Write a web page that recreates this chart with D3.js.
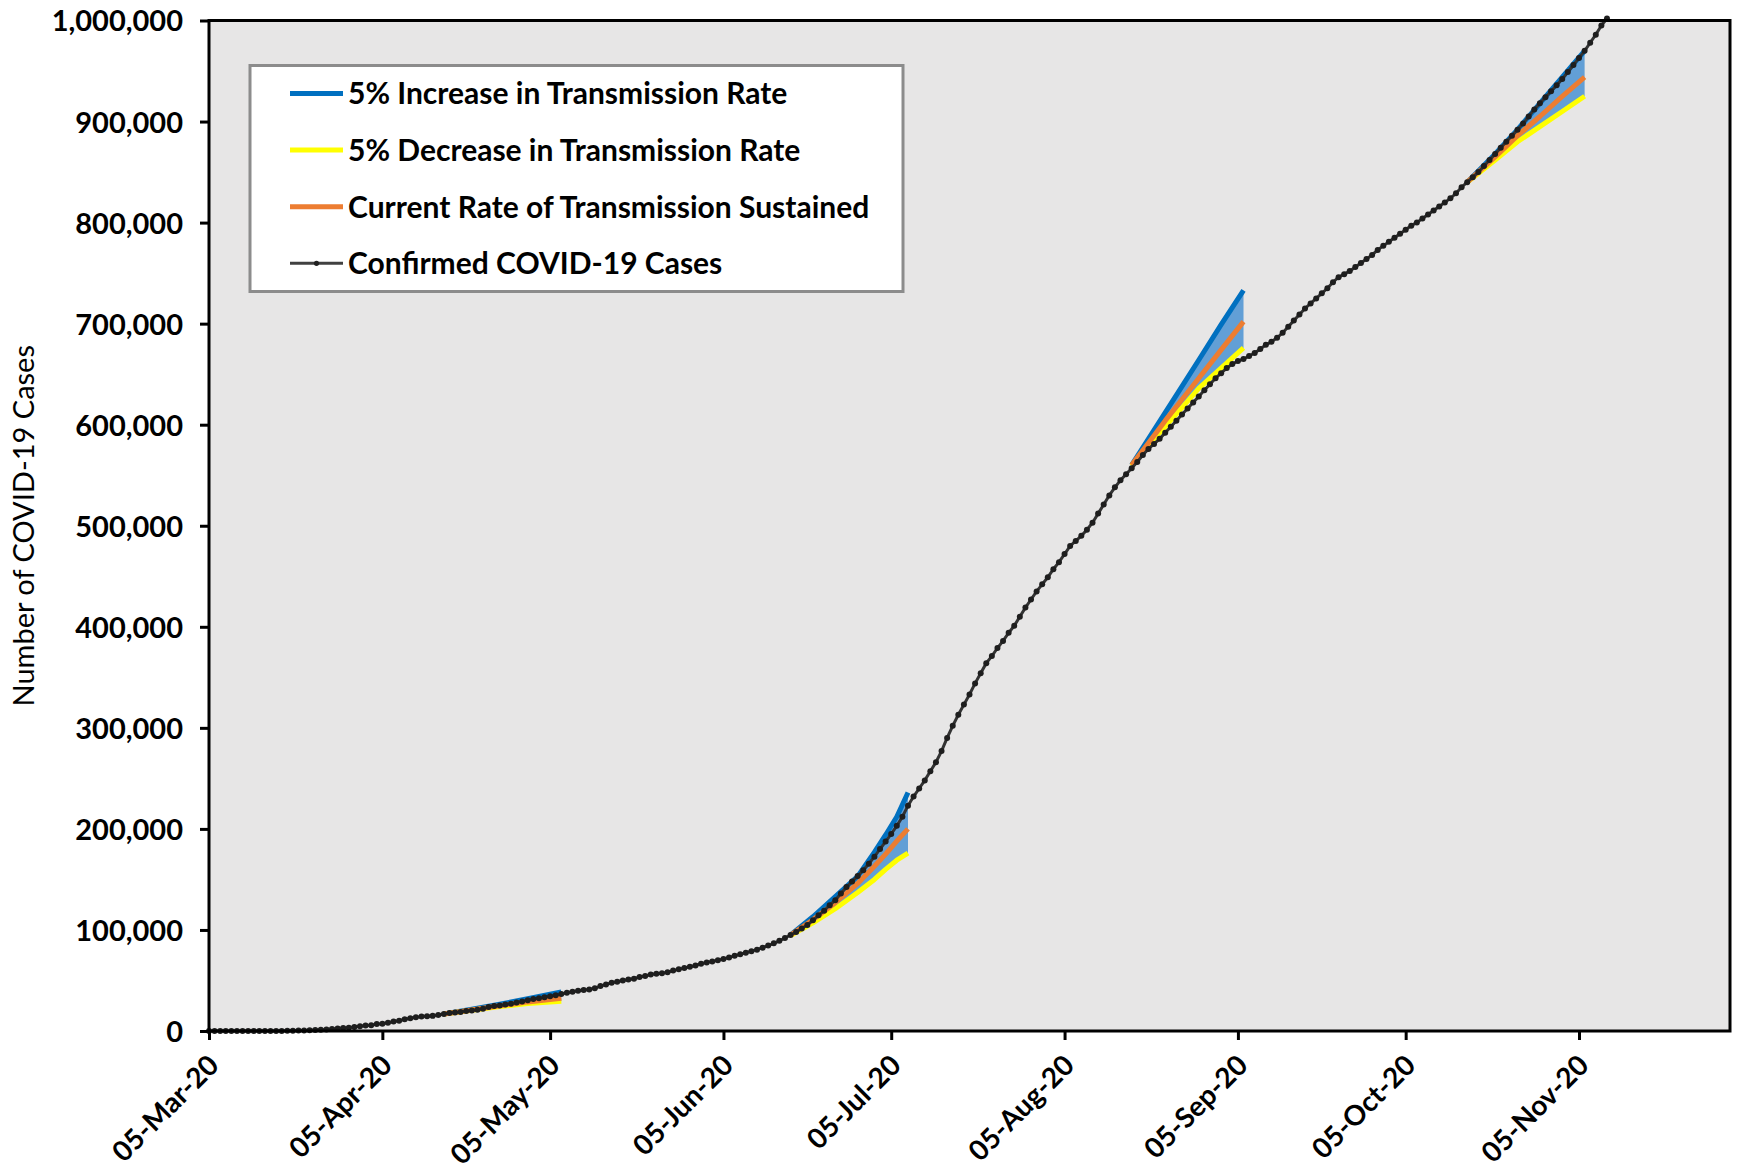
<!DOCTYPE html>
<html>
<head>
<meta charset="utf-8">
<script src="https://cdn.jsdelivr.net/npm/d3@7/dist/d3.min.js"></script>
<style>
  html, body { margin: 0; padding: 0; background: #ffffff; }
  svg { display: block; }
</style>
</head>
<body>
<svg id="chart" width="1740" height="1174"></svg>
<script>
// ---------------- DATA ----------------
// Confirmed cumulative cases, one value per day starting 05-Mar-2020
const startDate = "2020-03-05";
const confirmedCases = [
  1, 1, 3, 5, 8, 12, 13, 20, 29, 39,
  57, 64, 85, 110, 194, 260, 394, 581, 758, 956,
  1229, 1563, 1936, 2455, 2877, 3266, 3966, 4669, 5330, 5734,
  6812, 7276, 8262, 9353, 10230, 11671, 12561, 13484, 14275, 14624,
  15006, 15907, 16876, 17849, 18260, 18923, 19751, 20196, 21069, 22060,
  23773, 24631, 25297, 26171, 27054, 28087, 29229, 30522, 31548, 32332,
  33369, 34422, 35390, 36609, 37860, 38869, 39869, 40555, 41048, 42403,
  44480, 46008, 47784, 48693, 49912, 50988, 51673, 53449, 54509, 55971,
  56560, 57230, 58208, 59776, 61006, 62338, 63600, 64880, 66568, 67900,
  68800, 70000, 71300, 72800, 74400, 76000, 77500, 79000, 80500, 82500,
  84500, 86800, 89200, 92000, 95000, 98000, 101500, 105000, 109500, 114500,
  119000, 124500, 129500, 136000, 142500, 148000, 153500, 159000, 165500, 172500,
  180000, 187500, 195000, 203000, 212000, 223000, 232000, 240000, 248000, 257000,
  266000, 277000, 290000, 302000, 313000, 323000, 333000, 344000, 354000, 364000,
  371000, 379000, 386000, 394000, 401000, 410000, 419000, 427000, 435000, 442000,
  449000, 457000, 464000, 472000, 480000, 485000, 490000, 496000, 503000, 512000,
  521000, 530000, 538000, 545000, 551000, 557000, 563000, 570000, 576000, 581000,
  586000, 592000, 598000, 604000, 610000, 616000, 622000, 628000, 634000, 640000,
  646000, 651000, 656000, 660000, 663000, 665000, 668000, 671000, 675000, 679000,
  682000, 686000, 691000, 697000, 703000, 709000, 715000, 720000, 725000, 730000,
  735000, 741000, 746000, 749000, 752000, 756000, 760000, 764000, 768000, 773000,
  777000, 781000, 785000, 789000, 793000, 797000, 800000, 804000, 808000, 812000,
  816000, 820000, 824000, 829000, 835000, 840000, 845000, 850000, 856000, 862000,
  868000, 874000, 880000, 886000, 892000, 898000, 905000, 912000, 918000, 924000,
  930000, 936000, 942000, 949000, 956000, 963000, 970000, 978000, 986000, 995000,
  1002000
];

// Projection scenarios (four forecast windows)
const projDates = [
  ["2020-04-16", "2020-04-21", "2020-04-26", "2020-05-01", "2020-05-07"],
  ["2020-06-17", "2020-06-21", "2020-06-25", "2020-06-29", "2020-07-02", "2020-07-04", "2020-07-06", "2020-07-08"],
  ["2020-08-17", "2020-08-20", "2020-08-23", "2020-08-26", "2020-08-29", "2020-09-02", "2020-09-06"],
  ["2020-10-16", "2020-10-21", "2020-10-25", "2020-10-29", "2020-11-02", "2020-11-06"]
];
const increase5 = [
  [16900, 21500, 26500, 32000, 38700],
  [95000, 113000, 133000, 153000, 177000, 194000, 212000, 236000],
  [560000, 586000, 612000, 638000, 664000, 699000, 733000],
  [840000, 868000, 892000, 918000, 944000, 970000]
];
const currentRate = [
  [16900, 20800, 25000, 28800, 32500],
  [95000, 110000, 127000, 146000, 163000, 175000, 188000, 200000],
  [560000, 582000, 604000, 625000, 646000, 674000, 702000],
  [840000, 865000, 886000, 905000, 925000, 944000]
];
const decrease5 = [
  [16900, 20500, 24200, 27200, 29500],
  [94500, 107000, 121000, 137000, 150000, 160000, 169000, 176000],
  [559000, 580000, 598000, 617000, 636000, 656000, 676000],
  [840000, 862000, 880000, 895000, 910000, 925000]
];

const xTickDates = ["2020-03-05", "2020-04-05", "2020-05-05", "2020-06-05", "2020-07-05",
                    "2020-08-05", "2020-09-05", "2020-10-05", "2020-11-05"];
const xDomain = ["2020-03-05", "2020-12-02"];
const yTicks = [0, 100000, 200000, 300000, 400000, 500000, 600000, 700000, 800000, 900000, 1000000];

const legendLabels = [
  "5% Increase in Transmission Rate",
  "5% Decrease in Transmission Rate",
  "Current Rate of Transmission Sustained",
  "Confirmed COVID-19 Cases"
];
const yTitle = "Number of COVID-19 Cases";

// ---------------- LAYOUT ----------------
const plot = { left: 209, right: 1730, top: 20.5, bottom: 1031 };
const colors = {
  inc: "#0070C0", dec: "#FFFF00", cur: "#ED7D31", conf: "#333333",
  band: "#5B9BD5", plotBg: "#E7E6E6"
};
const FONT = "Lato, 'Open Sans', sans-serif";

const parse = d3.utcParse("%Y-%m-%d");
const svg = d3.select("#chart");

const x = d3.scaleUtc().domain(xDomain.map(parse)).range([plot.left, plot.right]);
const y = d3.scaleLinear().domain([0, 1000000]).range([plot.bottom, plot.top]);

const start = parse(startDate);
const confirmed = confirmedCases.map((v, i) => ({ date: d3.utcDay.offset(start, i), v }));

// Plot background
svg.append("rect")
  .attr("x", plot.left).attr("y", plot.top)
  .attr("width", plot.right - plot.left).attr("height", plot.bottom - plot.top)
  .attr("fill", colors.plotBg);

// Projections
const gProj = svg.append("g");
projDates.forEach((dates, k) => {
  const pts = dates.map((d, i) => ({
    date: parse(d), hi: increase5[k][i], mid: currentRate[k][i], lo: decrease5[k][i]
  }));
  gProj.append("path")
    .attr("d", d3.area().x(d => x(d.date)).y0(d => y(d.lo)).y1(d => y(d.hi))(pts))
    .attr("fill", colors.band).attr("opacity", 0.95);
  const line = key => d3.line().x(d => x(d.date)).y(d => y(d[key]))(pts);
  gProj.append("path").attr("d", line("hi")).attr("fill", "none")
    .attr("stroke", colors.inc).attr("stroke-width", 5).attr("stroke-linejoin", "round");
  gProj.append("path").attr("d", line("lo")).attr("fill", "none")
    .attr("stroke", colors.dec).attr("stroke-width", 5).attr("stroke-linejoin", "round");
  gProj.append("path").attr("d", line("mid")).attr("fill", "none")
    .attr("stroke", colors.cur).attr("stroke-width", 5).attr("stroke-linejoin", "round");
});

// Confirmed cases line + markers
svg.append("path")
  .attr("d", d3.line().x(d => x(d.date)).y(d => y(d.v))(confirmed))
  .attr("fill", "none").attr("stroke", colors.conf).attr("stroke-width", 3);
svg.append("g").selectAll("circle").data(confirmed).join("circle")
  .attr("cx", d => x(d.date)).attr("cy", d => y(d.v)).attr("r", 3)
  .attr("fill", "#1e1e1e");

// Plot border
svg.append("rect")
  .attr("x", plot.left).attr("y", plot.top)
  .attr("width", plot.right - plot.left).attr("height", plot.bottom - plot.top)
  .attr("fill", "none").attr("stroke", "#000").attr("stroke-width", 3);

// Y axis
const yAxis = svg.append("g")
  .attr("transform", `translate(${plot.left},0)`)
  .call(d3.axisLeft(y).tickValues(yTicks).tickFormat(d3.format(",")).tickSize(9).tickPadding(17));
yAxis.select(".domain").remove();
yAxis.selectAll(".tick line").attr("stroke", "#000").attr("stroke-width", 3);
yAxis.selectAll(".tick text")
  .attr("font-family", FONT).attr("font-weight", "bold").attr("font-size", 29)
  .attr("fill", "#000").attr("dy", "0.36em");

// X axis
const xAxis = svg.append("g")
  .attr("transform", `translate(0,${plot.bottom})`)
  .call(d3.axisBottom(x).tickValues(xTickDates.map(parse)).tickFormat(d3.utcFormat("%d-%b-%y")).tickSize(9));
xAxis.select(".domain").remove();
xAxis.selectAll(".tick line").attr("stroke", "#000").attr("stroke-width", 3);
xAxis.selectAll(".tick text")
  .attr("font-family", FONT).attr("font-weight", "bold").attr("font-size", 28)
  .attr("fill", "#000")
  .attr("text-anchor", "end")
  .attr("y", 0).attr("dy", 0)
  .attr("transform", "translate(11,36) rotate(-45)");

// Y axis title
svg.append("text")
  .attr("transform", `translate(34,${(plot.top + plot.bottom) / 2}) rotate(-90)`)
  .attr("text-anchor", "middle")
  .attr("font-family", FONT).attr("font-size", 29).attr("fill", "#000")
  .text(yTitle);

// Legend
const legend = svg.append("g");
legend.append("rect")
  .attr("x", 250).attr("y", 65.5).attr("width", 653).attr("height", 226)
  .attr("fill", "#fff").attr("stroke", "#8c8c8c").attr("stroke-width", 3);
const legendColors = [colors.inc, colors.dec, colors.cur, "#404040"];
const legendWidths = [5, 5, 5, 3];
legendLabels.forEach((lab, i) => {
  const cy = 93.5 + i * 56.6;
  legend.append("line").attr("x1", 290).attr("x2", 343).attr("y1", cy).attr("y2", cy)
    .attr("stroke", legendColors[i]).attr("stroke-width", legendWidths[i]);
  if (i === 3) {
    legend.append("circle").attr("cx", 316.5).attr("cy", cy).attr("r", 2.6).attr("fill", "#222");
  }
  legend.append("text").attr("x", 348).attr("y", cy).attr("dy", "0.36em")
    .attr("font-family", FONT).attr("font-weight", "bold").attr("font-size", 30)
    .attr("fill", "#000").text(lab);
});
</script>
</body>
</html>
